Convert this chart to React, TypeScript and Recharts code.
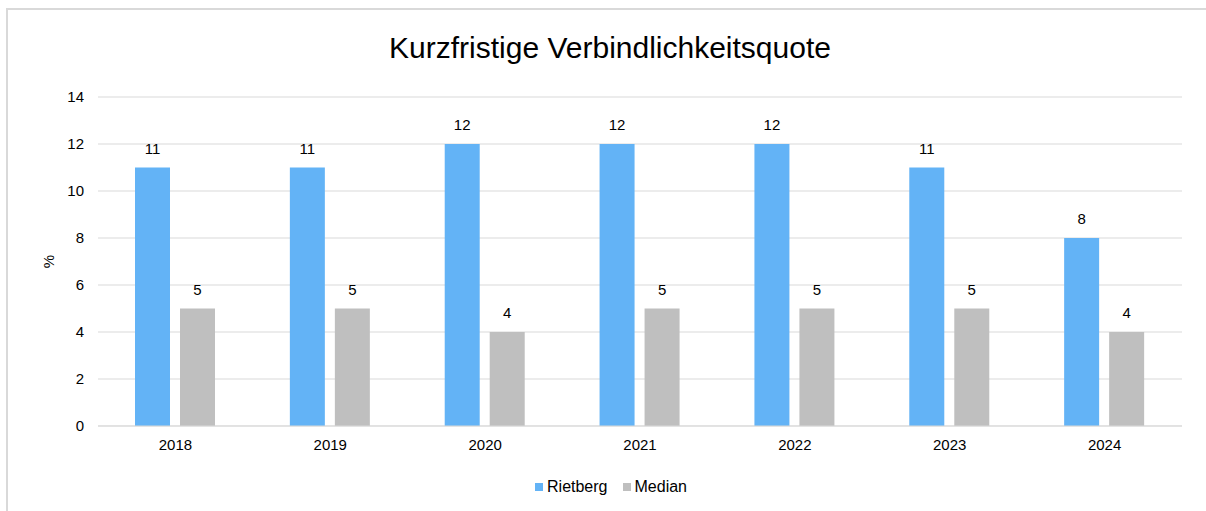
import React from 'react';
import { BarChart, Bar, XAxis, YAxis, CartesianGrid, Legend, LabelList } from 'recharts';

const years = ['2018', '2019', '2020', '2021', '2022', '2023', '2024'];
const rietberg = [11, 11, 12, 12, 12, 11, 8];
const median = [5, 5, 4, 5, 5, 5, 4];
const yTicks = [0, 2, 4, 6, 8, 10, 12, 14];

const BLUE = '#63B3F6';
const GRAY = '#BFBFBF';
const FONT = '"Liberation Sans", Arial, sans-serif';

const data = years.map((year, i) => ({ year, Rietberg: rietberg[i], Median: median[i] }));

const LegendContent = () => (
  <div style={{ display: 'flex', justifyContent: 'center', fontFamily: FONT, fontSize: 16, color: '#000' }}>
    {[
      { name: 'Rietberg', color: BLUE },
      { name: 'Median', color: GRAY },
    ].map((item, i) => (
      <div key={item.name} style={{ display: 'flex', alignItems: 'center', marginLeft: i ? 15 : 0 }}>
        <span style={{ width: 8, height: 8, background: item.color, marginRight: 4, display: 'inline-block' }} />
        <span>{item.name}</span>
      </div>
    ))}
  </div>
);

const App: React.FC = () => {
  return (
    <div style={{ position: 'absolute', left: 0, top: 0, width: 1206, height: 511, overflow: 'hidden', background: '#fff' }}>
      <div
        style={{
          position: 'absolute',
          left: 6,
          top: 8,
          width: 1240,
          height: 540,
          border: '2px solid #d9d9d9',
          boxSizing: 'border-box',
        }}
      />
      <div
        style={{
          position: 'absolute',
          left: 0,
          top: 33,
          width: 1220,
          textAlign: 'center',
          fontFamily: FONT,
          fontSize: 30,
          lineHeight: '29px',
          color: '#000',
        }}
      >
        Kurzfristige Verbindlichkeitsquote
      </div>
      <div style={{ position: 'absolute', left: 0, top: 0 }}>
        <BarChart
          width={1206}
          height={511}
          data={data}
          margin={{ top: 97, right: 24, left: 40, bottom: 55 }}
          barSize={35}
          barGap={10}
        >
          <CartesianGrid vertical={false} stroke="#d9d9d9" />
          <XAxis
            dataKey="year"
            height={30}
            axisLine={{ stroke: '#d9d9d9' }}
            tickLine={false}
            tickSize={0}
            tickMargin={13}
            tick={{ fill: '#000', fontSize: 15, fontFamily: FONT }}
          />
          <YAxis
            width={58}
            domain={[0, 14]}
            ticks={yTicks}
            axisLine={false}
            tickLine={false}
            tickSize={0}
            tickMargin={14}
            tick={{ fill: '#000', fontSize: 15, fontFamily: FONT }}
            label={(props: any) => {
              const vb = props.viewBox || {};
              const x = 48;
              const y = (vb.y ?? 97) + (vb.height ?? 329) / 2;
              return (
                <text
                  x={x}
                  y={y}
                  transform={`rotate(-90, ${x}, ${y})`}
                  textAnchor="middle"
                  dominantBaseline="central"
                  fontSize={15}
                  fontFamily={FONT}
                  fill="#000"
                >
                  %
                </text>
              );
            }}
          />
          <Legend
            layout="horizontal"
            verticalAlign="middle"
            align="center"
            content={<LegendContent />}
            wrapperStyle={{ top: 478, left: 0, width: 1222 }}
          />
          <Bar dataKey="Rietberg" fill={BLUE} isAnimationActive={false}>
            <LabelList
              dataKey="Rietberg"
              position="top"
              offset={14}
              fill="#000"
              fontSize={15}
              fontFamily={FONT}
            />
          </Bar>
          <Bar dataKey="Median" fill={GRAY} isAnimationActive={false}>
            <LabelList
              dataKey="Median"
              position="top"
              offset={14}
              fill="#000"
              fontSize={15}
              fontFamily={FONT}
            />
          </Bar>
        </BarChart>
      </div>
    </div>
  );
};

export default App;
